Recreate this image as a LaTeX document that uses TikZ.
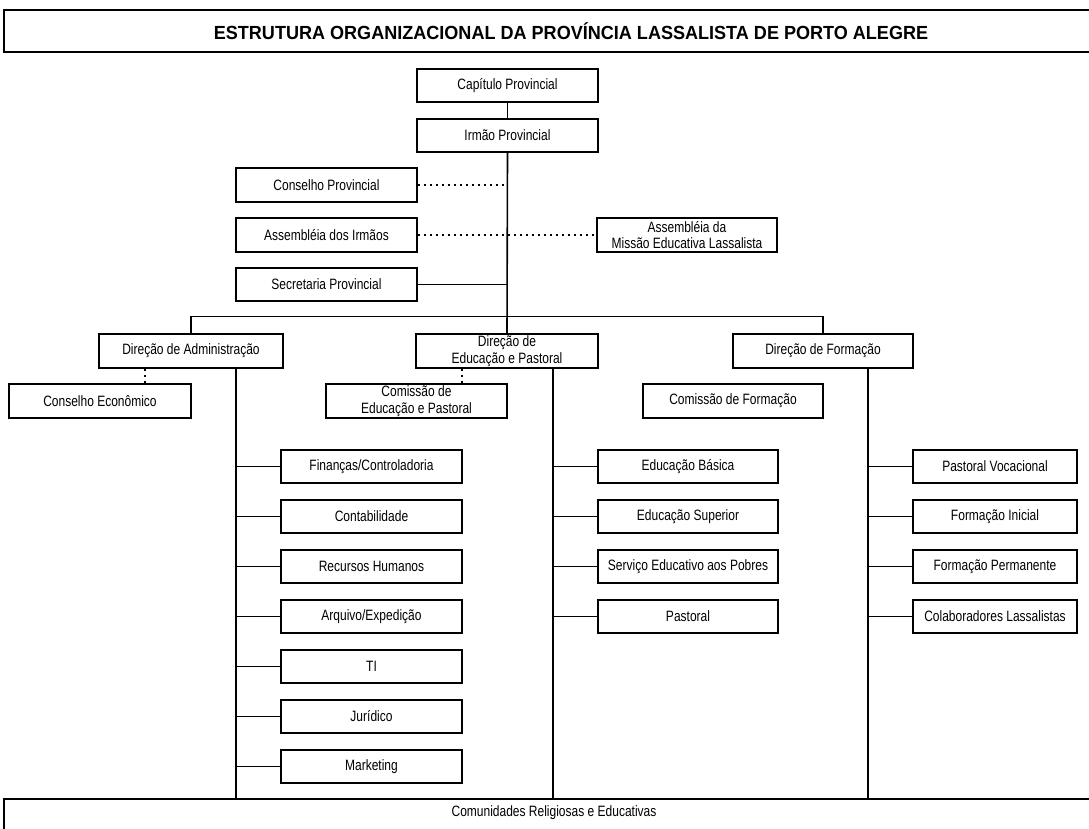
\documentclass[tikz,border=0pt]{standalone}
\usepackage{fontspec}
\setmainfont{Liberation Sans}
\newfontfamily\boxfont[FakeStretch=0.80]{Liberation Sans}
\newfontfamily\titlefont[FakeStretch=0.95]{Liberation Sans}
\begin{document}
\begin{tikzpicture}[x=1pt,y=-1pt,
  bx/.style={draw, line width=1.4pt, fill=white, inner sep=0pt,
    font=\boxfont\fontsize{15}{16.5}\selectfont, align=center,
    minimum height=34},
  ln/.style={line width=1.6pt},
  thin/.style={line width=0.9pt},
  dot/.style={line width=1.6pt, dash pattern=on 2.5pt off 3.5pt},
  frame/.style={line width=1.4pt}]
\useasboundingbox (0,0) rectangle (1089,829);
% title and bottom frame
\draw[frame] (4,10) rectangle (1140,52);
\node[font=\titlefont\bfseries\fontsize{19}{20}\selectfont] (title) at (571,31)
  {ESTRUTURA ORGANIZACIONAL DA PROVÍNCIA LASSALISTA DE PORTO ALEGRE};
\draw[frame] (4,799) rectangle (1140,880);
\node[font=\boxfont\fontsize{15}{16.5}\selectfont] (comun) at (554,813)
  {Comunidades Religiosas e Educativas};
\coordinate (admend) at (236,799);
\coordinate (eduend) at (553,799);
\coordinate (forend) at (868,799);

% top boxes
\node[bx, minimum width=181, minimum height=33] (cap) at (507.5,85.5) {Capítulo Provincial};
\node[bx, minimum width=181, minimum height=33] (irmao) at (507.5,135.5) {Irmão Provincial};
\node[bx, minimum width=181] (consprov) at (326.5,185) {Conselho Provincial};
\node[bx, minimum width=181] (assirm) at (326.5,235) {Assembléia dos Irmãos};
\node[bx, minimum width=181, minimum height=33] (secr) at (326.5,284.5) {Secretaria Provincial};
\node[bx, minimum width=180] (assmis) at (687,235) {Assembléia da\\Missão Educativa Lassalista};

% directions
\node[bx, minimum width=184] (diradm) at (191,351) {Direção de Administração};
\node[bx, minimum width=182] (diredu) at (507,351) {Direção de\\Educação e Pastoral};
\node[bx, minimum width=180] (dirfor) at (823,351) {Direção de Formação};

\node[bx, minimum width=182] (conecon) at (100,401) {Conselho Econômico};
\node[bx, minimum width=181] (comedu) at (416.5,401) {Comissão de\\Educação e Pastoral};
\node[bx, minimum width=180] (comfor) at (733,401) {Comissão de Formação};

% left column
\node[bx, minimum width=181, minimum height=33] (fin) at (371.5,466.5) {Finanças/Controladoria};
\node[bx, minimum width=181, minimum height=33] (cont) at (371.5,516.5) {Contabilidade};
\node[bx, minimum width=181, minimum height=33] (rh) at (371.5,566.5) {Recursos Humanos};
\node[bx, minimum width=181, minimum height=33] (arq) at (371.5,616.5) {Arquivo/Expedição};
\node[bx, minimum width=181, minimum height=33] (ti) at (371.5,666.5) {TI};
\node[bx, minimum width=181, minimum height=33] (jur) at (371.5,716.5) {Jurídico};
\node[bx, minimum width=181, minimum height=33] (mkt) at (371.5,766.5) {Marketing};

% middle column
\node[bx, minimum width=180, minimum height=33] (eb) at (688,466.5) {Educação Básica};
\node[bx, minimum width=180, minimum height=33] (es) at (688,516.5) {Educação Superior};
\node[bx, minimum width=180, minimum height=33] (sep) at (688,566.5) {Serviço Educativo aos Pobres};
\node[bx, minimum width=180, minimum height=33] (past) at (688,616.5) {Pastoral};

% right column
\node[bx, minimum width=164, minimum height=33] (pv) at (995,466.5) {Pastoral Vocacional};
\node[bx, minimum width=164, minimum height=33] (fi) at (995,516.5) {Formação Inicial};
\node[bx, minimum width=164, minimum height=33] (fp) at (995,566.5) {Formação Permanente};
\node[bx, minimum width=164, minimum height=33] (cl) at (995,616.5) {Colaboradores Lassalistas};

% connectors
\draw[ln] (cap.south) -- (irmao.north);
\draw[ln] (irmao.south) -- (diredu.north);
\draw[dot] (consprov.east) -- (consprov.east -| irmao.south);
\draw[dot] (assirm.east) -- (assmis.west);
\draw[ln] (secr.east) -- (secr.east -| irmao.south);
\draw[ln] (diradm.north) -- ++(0,-17) -| (dirfor.north);

\draw[dot] (diradm.south -| 145,0) -- (conecon.north -| 145,0);
\draw[dot] (diredu.south -| 462,0) -- (comedu.north -| 462,0);

\draw[ln] (diradm.south -| admend) -- (admend);
\draw[ln] (diredu.south -| eduend) -- (eduend);
\draw[ln] (dirfor.south -| forend) -- (forend);

\foreach \n in {fin,cont,rh,arq,ti}
  \draw[ln] (\n.west -| admend) -- (\n.west);
\foreach \n in {jur,mkt}
  \draw[thin] (\n.west -| admend) -- (\n.west);
\foreach \n in {eb,es,sep,past}
  \draw[ln] (\n.west -| eduend) -- (\n.west);
\foreach \n in {pv,fi,fp,cl}
  \draw[ln] (\n.west -| forend) -- (\n.west);
\end{tikzpicture}
\end{document}
